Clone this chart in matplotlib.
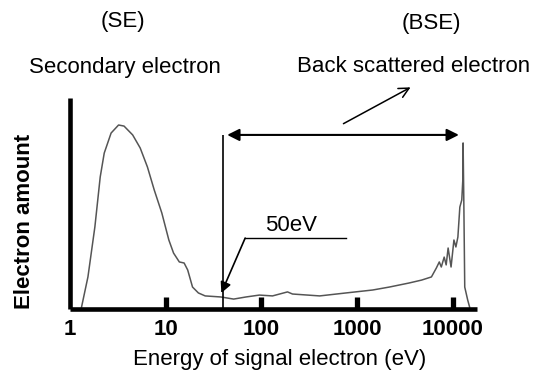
import matplotlib
matplotlib.use("Agg")
import matplotlib.pyplot as plt

plt.rcParams["font.family"] = ["Liberation Sans", "DejaVu Sans"]

# spectrum (energy in eV, amount normalised to axis height)
energy_ev = [1.32, 1.54, 1.82, 2.07, 2.28, 2.69, 3.22, 3.67, 4.52, 5.42,
             6.45, 7.60, 9.12, 10.8, 12.1, 13.9, 15.6, 17.0, 19.1, 22.0,
             25.9, 37.8, 51.4, 69.2, 95.5, 131, 188, 212, 408, 766,
             1460, 2180, 3490, 4740, 6010, 6760, 7260, 7620, 8170, 8570,
             8980, 9640, 10330, 10830, 11360, 11910, 12480, 12790, 12880, 13090,
             13400, 14380, 15070]
amount = [0.009, 0.152, 0.389, 0.626, 0.739, 0.834, 0.872, 0.867, 0.825, 0.763,
          0.673, 0.564, 0.455, 0.327, 0.265, 0.223, 0.218, 0.185, 0.104, 0.076,
          0.062, 0.057, 0.047, 0.057, 0.066, 0.062, 0.081, 0.071, 0.062, 0.076,
          0.090, 0.104, 0.123, 0.137, 0.152, 0.194, 0.223, 0.199, 0.246, 0.209,
          0.289, 0.199, 0.327, 0.294, 0.341, 0.483, 0.517, 0.611, 0.787, 0.531,
          0.104, 0.043, 0.009]

tick_values = [1, 10, 100, 1000, 10000]
tick_labels = ["1", "10", "100", "1000", "10000"]

cutoff_ev = 40          # vertical line position as drawn
bse_range = (44, 11640)  # double arrow span
bse_arrow_y = 0.825
leader_tip = (38.2, 0.076)
leader_elbow = (67.8, 0.336)
leader_end = 766

fig = plt.figure(figsize=(5.38, 3.82), dpi=100)
ax = fig.add_axes([70 / 538, 73 / 382, 407 / 538, 211 / 382])

ax.plot(energy_ev, amount, color="#555555", lw=1.1)

ax.set_xscale("log")
ax.set_xlim(1, 18000)
ax.set_ylim(0, 1)
ax.set_xticks(tick_values)
ax.set_xticklabels(tick_labels, fontsize=16, fontweight="bold")
ax.minorticks_off()
ax.set_yticks([])
ax.tick_params(axis="x", direction="in", length=9, width=3.8, pad=7, color="black")
ax.xaxis.get_major_ticks()[0].tick1line.set_visible(False)

for side in ["top", "right"]:
    ax.spines[side].set_visible(False)
for side in ["left", "bottom"]:
    ax.spines[side].set_linewidth(3.3)
    ax.spines[side].set_capstyle("butt")

# BSE region
ax.vlines(cutoff_ev, 0, bse_arrow_y, color="black", lw=1.2)
ax.annotate("", xy=(bse_range[1], bse_arrow_y), xytext=(bse_range[0], bse_arrow_y),
            arrowprops=dict(arrowstyle="<|-|>", color="black", lw=1.5,
                            mutation_scale=18, shrinkA=0, shrinkB=0))

# 50eV leader
ax.plot([leader_elbow[0], leader_end], [leader_elbow[1], leader_elbow[1]], color="black", lw=1.0)
ax.annotate("", xy=leader_tip, xytext=leader_elbow,
            arrowprops=dict(arrowstyle="-|>", color="black", lw=1.2,
                            mutation_scale=16, shrinkA=0, shrinkB=0))
ax.text(110, leader_elbow[1] + 0.01, "50eV", fontsize=16, ha="left", va="bottom")

# texts above
fig.text(123 / 538, 1 - 22 / 382, "(SE)", fontsize=16, ha="center", va="center")
fig.text(125 / 538, 1 - 68 / 382, "Secondary electron", fontsize=16, ha="center", va="center")
fig.text(431 / 538, 1 - 23 / 382, "(BSE)", fontsize=16, ha="center", va="center")
fig.text(414 / 538, 1 - 67 / 382, "Back scattered electron", fontsize=16, ha="center", va="center")
fig.patches.append(matplotlib.patches.FancyArrowPatch(
    (341 / 538, 1 - 125 / 382), (413 / 538, 1 - 86 / 382), transform=fig.transFigure,
    arrowstyle="->", color="black", lw=1.1, mutation_scale=18))

fig.text(25 / 538, 1 - 221 / 382, "Electron amount", fontsize=16, fontweight="bold",
         rotation=90, ha="center", va="center")
fig.text(280 / 538, 1 - 360 / 382, "Energy of signal electron (eV)", fontsize=16,
         ha="center", va="center")

fig.savefig("out.png", dpi=100)
